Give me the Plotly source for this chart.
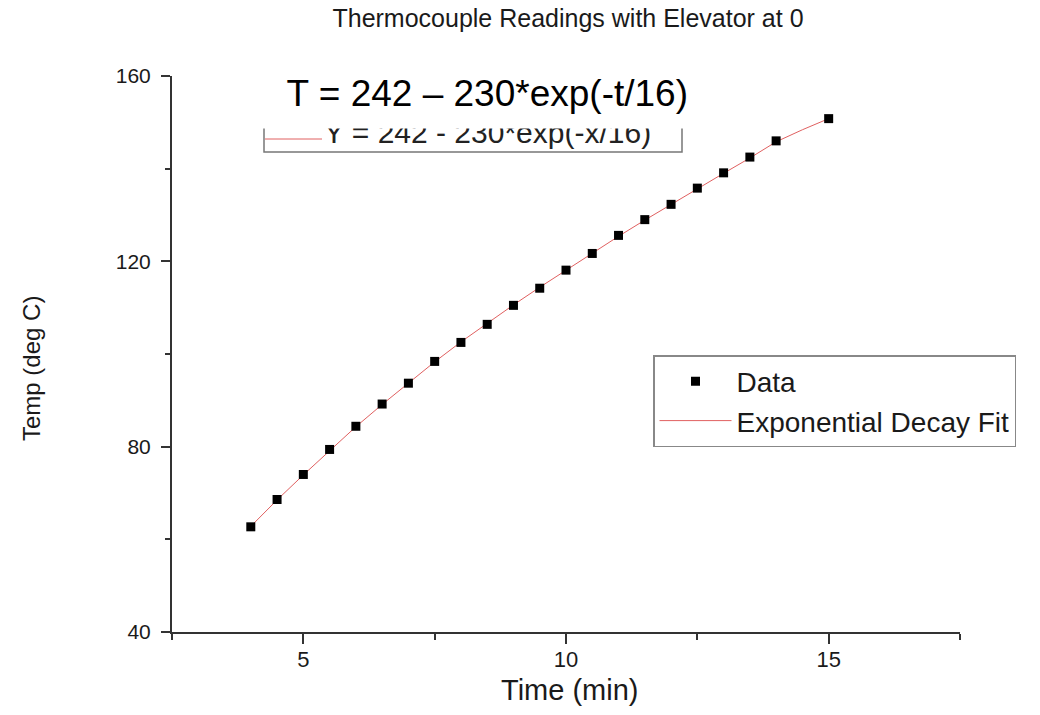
import plotly.graph_objects as go

# ---- data ----
time_min = [4, 4.5, 5, 5.5, 6, 6.5, 7, 7.5, 8, 8.5, 9, 9.5, 10, 10.5, 11, 11.5,
            12, 12.5, 13, 13.5, 14, 15]
temp_c = [62.7, 68.6, 74.0, 79.4, 84.4, 89.2, 93.7, 98.4, 102.5, 106.4, 110.5,
          114.2, 118.1, 121.7, 125.6, 129.0, 132.3, 135.8, 139.1, 142.5, 146.0, 150.8]

fit_time = [4, 4.5, 5, 5.5, 6, 6.5, 7, 7.5, 8, 8.5, 9, 9.5, 10, 10.5, 11, 11.5,
            12, 12.5, 13, 13.5, 14, 14.5, 15]
fit_temp = [62.8, 68.5, 73.9, 79.2, 84.3, 89.1, 93.8, 98.3, 102.6, 106.7, 110.6,
            114.4, 118.1, 121.8, 125.4, 128.9, 132.3, 135.7, 139.0, 142.3, 145.8, 148.4, 150.8]

x_ticks = [5, 10, 15]
x_minor = [2.5, 7.5, 12.5, 17.5]
y_ticks = [40, 80, 120, 160]
y_minor = [60, 100, 140]

W, H = 1040, 715
PL, PR, PT, PB = 172, 960, 76, 632        # plot area in screen pixels
L, R, T, B = PL, W - PR, PT, H - PB


def px_x(p):
    return (p - PL) / (PR - PL)


def px_y(p):
    return (PB - p) / (PB - PT)


FONT = "Arial, Liberation Sans, sans-serif"
AX = "#333333"
TXT = "#1a1a1a"

fig = go.Figure()
fig.add_trace(go.Scatter(
    x=fit_time, y=fit_temp, mode="lines", name="Exponential Decay Fit",
    line=dict(color="#e06060", width=1),
))
fig.add_trace(go.Scatter(
    x=time_min, y=temp_c, mode="markers", name="Data",
    marker=dict(symbol="square", size=9, color="#000000"),
))

axis_common = dict(
    showline=True, linecolor=AX, linewidth=2, mirror=False,
    ticks="outside", tickcolor=AX, tickwidth=2,
    showgrid=False, zeroline=False,
)

fig.update_xaxes(
    range=[2.5, 17.5], tickmode="array", tickvals=x_ticks,
    ticktext=[str(v) for v in x_ticks], ticklen=10, ticklabelstandoff=-3,
    tickfont=dict(family=FONT, size=22, color=TXT),
    minor=dict(tickmode="array", tickvals=x_minor, ticks="outside",
               ticklen=6, tickwidth=2, tickcolor=AX),
    **axis_common,
)
fig.update_yaxes(
    range=[40, 160], tickmode="array", tickvals=y_ticks,
    ticktext=[str(v) for v in y_ticks], ticklen=9, ticklabelstandoff=6,
    tickfont=dict(family=FONT, size=21, color=TXT),
    minor=dict(tickmode="array", tickvals=y_minor, ticks="outside",
               ticklen=5, tickwidth=2, tickcolor=AX),
    **axis_common,
)

annotations = [
    # text inside the partially hidden fit-result box
    dict(text="Y = 242 - 230*exp(-x/16)", xref="paper", yref="paper",
         x=px_x(487), y=px_y(132), xanchor="center", yanchor="middle",
         showarrow=False, font=dict(family=FONT, size=30, color="#222222")),
    # big formula, its white background hides the top of that box
    dict(text="T = 242 – 230*exp(-t/16)", xref="paper", yref="paper",
         x=px_x(471), y=px_y(129), xanchor="center", yanchor="bottom",
         width=434, height=55, align="right", valign="top",
         bgcolor="white", borderpad=0,
         showarrow=False, font=dict(family=FONT, size=37, color="#000000")),
    # axis titles
    dict(text="Time (min)", xref="paper", yref="paper", x=px_x(569), y=px_y(690),
         xanchor="center", yanchor="middle", showarrow=False,
         font=dict(family=FONT, size=29, color=TXT)),
    dict(text="Temp (deg C)", xref="paper", yref="paper", x=px_x(31), y=px_y(369),
         xanchor="center", yanchor="middle", textangle=-90, showarrow=False,
         font=dict(family=FONT, size=24, color=TXT)),
]

box_path = "M {x0},{yt} L {x0},{yb} L {x1},{yb} L {x1},{yt}".format(
    x0=px_x(264), x1=px_x(682), yt=px_y(120), yb=px_y(152))
shapes = [
    dict(type="path", xref="paper", yref="paper", path=box_path,
         line=dict(color="#777777", width=1.5), layer="above"),
    dict(type="line", xref="paper", yref="paper",
         x0=px_x(265), x1=px_x(322), y0=px_y(139), y1=px_y(139),
         line=dict(color="#e06060", width=1), layer="above"),
]

fig.update_layout(
    width=W, height=H, autosize=False,
    margin=dict(l=L, r=R, t=T, b=B, pad=0),
    paper_bgcolor="white", plot_bgcolor="white",
    title=dict(text="Thermocouple Readings with Elevator at 0",
               x=px_x(568), xanchor="center", y=1 - 18 / H, yanchor="middle",
               xref="paper", yref="container",
               font=dict(family=FONT, size=25, color=TXT)),
    legend=dict(x=px_x(653), y=px_y(355), xanchor="left", yanchor="top",
                bordercolor="#888888", borderwidth=1.5, bgcolor="white",
                font=dict(family=FONT, size=28, color=TXT),
                itemwidth=72, traceorder="reversed"),
    annotations=annotations,
    shapes=shapes,
    showlegend=True,
)

fig.write_html("out.html",
               config={"displayModeBar": False},
               post_script="document.body.style.margin='0px';")
